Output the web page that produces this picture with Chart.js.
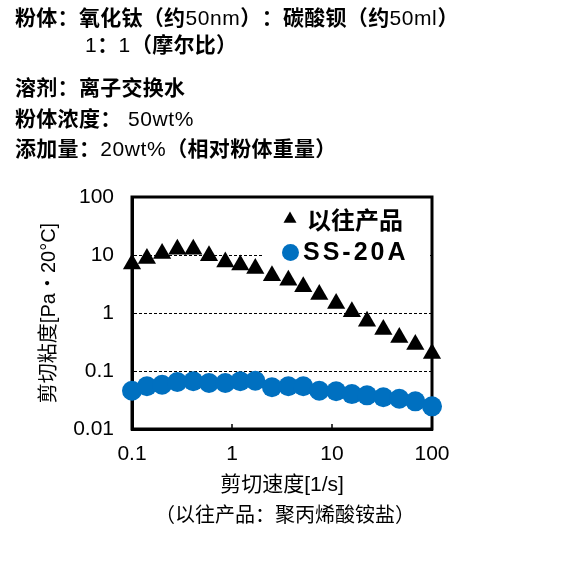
<!DOCTYPE html>
<html lang="zh">
<head>
<meta charset="utf-8">
<script src="https://cdn.jsdelivr.net/npm/chart.js@4.4.1/dist/chart.umd.min.js"></script>
<style>
  html, body { margin: 0; padding: 0; background: #fff; }
  #wrap { position: relative; width: 566px; height: 579px; overflow: hidden; }
  #chart { position: absolute; left: 0; top: 0; }
  .note {
    position: absolute;
    font-family: "Liberation Sans", "Noto Sans CJK JP", sans-serif;
    font-size: 21px;
    line-height: 24px;
    color: #000;
    white-space: nowrap;
    text-spacing-trim: space-all;
  }
  .head { font-weight: bold; letter-spacing: 0.3px; }
  .head span { font-weight: normal; letter-spacing: 0.6px; }
  .caption { font-size: 20px; letter-spacing: 0; }
</style>
</head>
<body>
<div id="wrap">
  <canvas id="chart" width="566" height="579"></canvas>
  <div class="note head" style="left:15px; top:6px;">粉体：氧化钛（约<span>50nm</span>）：碳酸钡（约<span>50ml</span>）</div>
  <div class="note head" style="left:85px; top:33px;"><span>1</span>：<span>1</span>（摩尔比）</div>
  <div class="note head" style="left:15px; top:76px;">溶剂：离子交换水</div>
  <div class="note head" style="left:15px; top:107px;">粉体浓度：<span> 50wt%</span></div>
  <div class="note head" style="left:15px; top:137px;">添加量：<span>20wt%</span>（相对粉体重量）</div>
  <div class="note caption" style="left:155px; top:503px;">（以往产品：聚丙烯酸铵盐）</div>
</div>
<script>
// Shear rate [1/s] (same points for both series)
const shearRate = [0.1, 0.141, 0.2, 0.284, 0.41, 0.589, 0.857, 1.21, 1.71, 2.51,
                   3.66, 5.16, 7.46, 11.0, 15.8, 22.4, 32.6, 47.1, 68.1, 100];

// Shear viscosity [Pa·s]
const viscosityOld = [7.0, 8.7, 10.6, 12.6, 12.6, 9.7, 7.6, 6.7, 5.85, 4.4,
                      3.68, 2.83, 2.08, 1.46, 1.05, 0.72, 0.52, 0.378, 0.286, 0.20];
const viscositySS20A = [0.0457, 0.0545, 0.058, 0.0646, 0.0665, 0.062, 0.062, 0.0665, 0.068, 0.0524,
                        0.0545, 0.0545, 0.0457, 0.0447, 0.040, 0.038, 0.0352, 0.0333, 0.030, 0.0246];

const seriesNames = ['以往产品', 'SS-20A'];
const seriesColors = ['#000000', '#0070c0'];

const xTicks = [0.1, 1, 10, 100];
const xTickLabels = ['0.1', '1', '10', '100'];
const yTicks = [0.01, 0.1, 1, 10, 100];
const yTickLabels = ['0.01', '0.1', '1', '10', '100'];

const latinFont = '"Liberation Sans", "Noto Sans CJK JP", sans-serif';

// Box, inner tick marks and the legend inside the plot
const framePlugin = {
    id: 'frame',
    beforeDatasetsDraw(chart) {
        const { ctx, chartArea: a, scales: { x } } = chart;
        ctx.save();
        // white backdrop behind the legend hides the grid line there
        ctx.fillStyle = '#fff';
        ctx.fillRect(263, a.top + 2, a.right - 2 - 263, 70);

        ctx.strokeStyle = '#000';
        ctx.lineWidth = 1.5;
        xTicks.slice(1, -1).forEach(v => {
            const px = x.getPixelForValue(v);
            ctx.beginPath();
            ctx.moveTo(px, a.bottom);
            ctx.lineTo(px, a.bottom - 5);
            ctx.stroke();
        });

        ctx.lineWidth = 3;
        ctx.strokeRect(a.left, a.top, a.right - a.left, a.bottom - a.top);
        ctx.restore();
    },
    afterDatasetsDraw(chart) {
        const { ctx } = chart;
        ctx.save();
        ctx.textBaseline = 'middle';
        ctx.textAlign = 'left';

        // triangle entry
        ctx.fillStyle = seriesColors[0];
        const r = 7.5;
        ctx.beginPath();
        ctx.moveTo(290, 219 - r);
        ctx.lineTo(290 + r * 0.866, 219 + r / 2);
        ctx.lineTo(290 - r * 0.866, 219 + r / 2);
        ctx.closePath();
        ctx.fill();
        ctx.font = 'bold 24px "Noto Sans CJK JP", sans-serif';
        ctx.fillText(seriesNames[0], 307, 220);

        // circle entry
        ctx.fillStyle = seriesColors[1];
        ctx.beginPath();
        ctx.arc(290.5, 252.5, 8.5, 0, Math.PI * 2);
        ctx.fill();
        ctx.fillStyle = '#000';
        ctx.font = 'bold 25px ' + latinFont;
        ctx.letterSpacing = '3px';
        ctx.fillText(seriesNames[1], 303, 253);
        ctx.restore();
    }
};

const ctx = document.getElementById('chart').getContext('2d');
const viscosityChart = new Chart(ctx, {
    type: 'scatter',
    data: {
        datasets: [{
            label: seriesNames[0],
            data: shearRate.map((v, i) => ({ x: v, y: viscosityOld[i] })),
            pointStyle: 'triangle',
            pointRadius: 10.5,
            backgroundColor: seriesColors[0],
            borderColor: seriesColors[0],
            borderWidth: 0,
            showLine: false,
            clip: false
        }, {
            label: seriesNames[1],
            data: shearRate.map((v, i) => ({ x: v, y: viscositySS20A[i] })),
            pointStyle: 'circle',
            pointRadius: 10,
            backgroundColor: seriesColors[1],
            borderColor: seriesColors[1],
            borderWidth: 0,
            showLine: false,
            clip: false
        }]
    },
    options: {
        responsive: false,
        animation: false,
        events: [],
        layout: {
            padding: { left: 37, top: 197, right: 134, bottom: 81.4 }
        },
        plugins: {
            legend: { display: false },
            tooltip: { enabled: false }
        },
        scales: {
            x: {
                type: 'logarithmic',
                min: 0.1,
                max: 100,
                afterBuildTicks: s => { s.ticks = xTicks.map(v => ({ value: v })); },
                afterFit: s => { s.height = 68.6; },
                grid: { display: false, drawTicks: false },
                border: { display: true, color: '#000', width: 3 },
                ticks: {
                    color: '#000',
                    padding: 13,
                    maxRotation: 0,
                    autoSkip: false,
                    font: { family: latinFont, size: 21 },
                    callback: (v, i) => xTickLabels[i]
                },
                title: {
                    display: true,
                    text: '剪切速度[1/s]',
                    color: '#000',
                    padding: 0,
                    font: { family: latinFont, size: 21 }
                }
            },
            y: {
                type: 'logarithmic',
                min: 0.01,
                max: 100,
                afterBuildTicks: s => { s.ticks = yTicks.map(v => ({ value: v })); },
                afterFit: s => { s.width = 95; },
                grid: { color: '#000', lineWidth: 1, drawTicks: false },
                border: { display: true, color: '#000', width: 3, dash: [3, 2] },
                ticks: {
                    color: '#000',
                    padding: 18,
                    autoSkip: false,
                    font: { family: latinFont, size: 21 },
                    callback: (v, i) => yTickLabels[i]
                },
                title: {
                    display: true,
                    text: '剪切粘度[Pa・20°C]',
                    color: '#000',
                    padding: 0,
                    font: { family: latinFont, size: 20 }
                }
            }
        }
    },
    plugins: [framePlugin]
});
</script>
</body>
</html>
